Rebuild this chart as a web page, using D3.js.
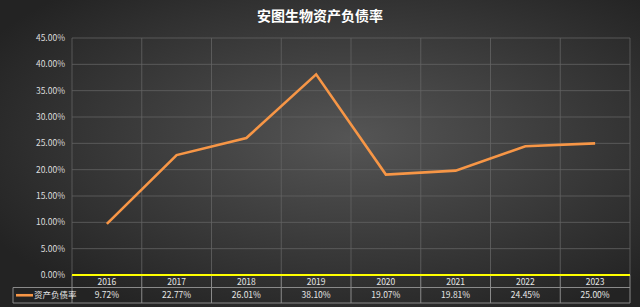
<!DOCTYPE html>
<html>
<head>
<meta charset="utf-8">
<script src="https://cdn.jsdelivr.net/npm/d3@7"></script>
<style>
  html, body { margin: 0; padding: 0; background: #2a2a2a; }
  svg { display: block; font-family: "Noto Sans CJK SC", "Noto Sans", sans-serif; }
</style>
</head>
<body>
<div id="chart"></div>
<script>
// chart data
const years = ["2016", "2017", "2018", "2019", "2020", "2021", "2022", "2023"];
const debtRatio = [9.72, 22.77, 26.01, 38.10, 19.07, 19.81, 24.45, 25.00];
const yTicks = [0, 5, 10, 15, 20, 25, 30, 35, 40, 45];
const seriesName = "资产负债率";
const title = "安图生物资产负债率";

const width = 640, height = 307;
const margin = { top: 38, right: 10, bottom: 32, left: 72 };

const svg = d3.select("#chart").append("svg")
    .attr("width", width)
    .attr("height", height);

// dark background with a lighter centre
const defs = svg.append("defs");
const grad = defs.append("radialGradient")
    .attr("id", "bg")
    .attr("cx", "55%").attr("cy", "45%").attr("r", "65%");
grad.append("stop").attr("offset", "0%").attr("stop-color", "#555555");
grad.append("stop").attr("offset", "100%").attr("stop-color", "#232323");
svg.append("rect").attr("width", width).attr("height", height).attr("fill", "url(#bg)");

const x = d3.scaleBand()
    .domain(years)
    .range([margin.left, width - margin.right]);

const y = d3.scaleLinear()
    .domain([0, 45])
    .range([height - margin.bottom, margin.top]);

// title
svg.append("text")
    .attr("x", 320)
    .attr("y", 21)
    .attr("text-anchor", "middle")
    .attr("fill", "#ffffff")
    .attr("font-size", 14)
    .attr("font-weight", "bold")
    .text(title);

// horizontal gridlines
svg.append("g")
    .selectAll("line")
    .data(yTicks.filter(d => d > 0))
    .join("line")
    .attr("x1", margin.left)
    .attr("x2", width - margin.right)
    .attr("y1", d => y(d))
    .attr("y2", d => y(d))
    .attr("stroke", "#636363")
    .attr("stroke-width", 0.8);

// vertical gridlines at band edges
const edges = years.map(d => x(d)).concat([x.range()[1]]);
svg.append("g")
    .selectAll("line")
    .data(edges)
    .join("line")
    .attr("x1", d => d)
    .attr("x2", d => d)
    .attr("y1", y(45))
    .attr("y2", y(0))
    .attr("stroke", "#636363")
    .attr("stroke-width", 0.8);

// y tick labels
svg.append("g")
    .selectAll("text")
    .data(yTicks)
    .join("text")
    .attr("x", margin.left - 7)
    .attr("y", d => y(d))
    .attr("dy", "0.35em")
    .attr("text-anchor", "end")
    .attr("fill", "#dddddd")
    .attr("font-size", 8.5)
    .text(d => d.toFixed(2) + "%");

// line
const line = d3.line()
    .x((d, i) => x(years[i]) + x.bandwidth() / 2)
    .y(d => y(d));

svg.append("path")
    .datum(debtRatio)
    .attr("d", line)
    .attr("fill", "none")
    .attr("stroke", "#f79646")
    .attr("stroke-width", 2.6)
    .attr("stroke-linejoin", "miter");

// data table below the axis
const row1 = y(0), row2 = row1 + 12.5, row3 = row2 + 15.5;
const tableLeft = 13;
const tableStroke = "#8a8a8a";
const tbl = svg.append("g");

tbl.append("line")
    .attr("x1", tableLeft).attr("x2", x.range()[1])
    .attr("y1", row2).attr("y2", row2)
    .attr("stroke", tableStroke);
tbl.append("line")
    .attr("x1", tableLeft).attr("x2", x.range()[1])
    .attr("y1", row3).attr("y2", row3)
    .attr("stroke", tableStroke);
tbl.append("line")
    .attr("x1", tableLeft).attr("x2", tableLeft)
    .attr("y1", row2).attr("y2", row3)
    .attr("stroke", tableStroke);
tbl.selectAll(".vsep")
    .data(edges)
    .join("line")
    .attr("class", "vsep")
    .attr("x1", d => d).attr("x2", d => d)
    .attr("y1", row1).attr("y2", row3)
    .attr("stroke", tableStroke);

tbl.selectAll(".yr")
    .data(years)
    .join("text")
    .attr("class", "yr")
    .attr("x", d => x(d) + x.bandwidth() / 2)
    .attr("y", (row1 + row2) / 2 + 1)
    .attr("dy", "0.35em")
    .attr("text-anchor", "middle")
    .attr("fill", "#e6e6e6")
    .attr("font-size", 8.5)
    .text(d => d);

tbl.selectAll(".val")
    .data(debtRatio)
    .join("text")
    .attr("class", "val")
    .attr("x", (d, i) => x(years[i]) + x.bandwidth() / 2)
    .attr("y", (row2 + row3) / 2)
    .attr("dy", "0.35em")
    .attr("text-anchor", "middle")
    .attr("fill", "#e6e6e6")
    .attr("font-size", 8.5)
    .text(d => d.toFixed(2) + "%");

// legend key in table
tbl.append("line")
    .attr("x1", tableLeft + 3).attr("x2", tableLeft + 20)
    .attr("y1", (row2 + row3) / 2).attr("y2", (row2 + row3) / 2)
    .attr("stroke", "#f79646")
    .attr("stroke-width", 2.6);
tbl.append("text")
    .attr("x", tableLeft + 21)
    .attr("y", (row2 + row3) / 2)
    .attr("dy", "0.35em")
    .attr("fill", "#e6e6e6")
    .attr("font-size", 8.5)
    .text(seriesName);

// yellow zero axis line
svg.append("line")
    .attr("x1", margin.left)
    .attr("x2", x.range()[1])
    .attr("y1", y(0))
    .attr("y2", y(0))
    .attr("stroke", "#ffff00")
    .attr("stroke-width", 2);
</script>
</body>
</html>
